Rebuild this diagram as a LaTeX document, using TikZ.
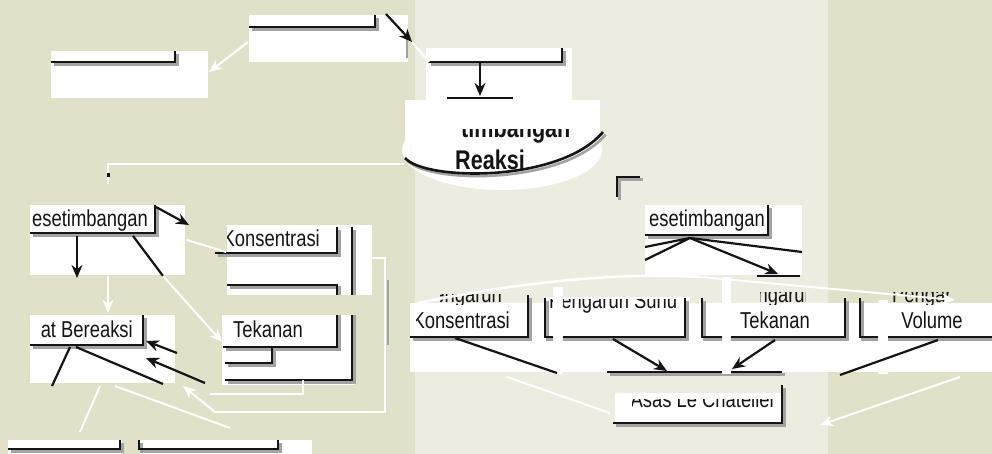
\documentclass[tikz,border=0pt]{standalone}
\usepackage{fontspec}
\setmainfont[FakeStretch=0.8]{Liberation Sans}
\usetikzlibrary{arrows.meta}
\definecolor{mapolive}{HTML}{E0E1C8}
\definecolor{mappale}{HTML}{ECECE1}
\definecolor{mapshade}{HTML}{A3A3A3}
\definecolor{mapink}{HTML}{141414}

\begin{document}
\begin{tikzpicture}[
  x=1pt,y=-1pt,
  >={Stealth[length=13pt,width=11pt]},
  patch/.style={fill=white},
  rim/.style={draw=mapink,line width=2.6pt,line join=miter,
    preaction={draw=mapshade,line width=2.6pt,
      transform canvas={shift={(2.6pt,-2.6pt)}}}},
  link/.style={draw=mapink,line width=2.2pt},
  wlink/.style={draw=white,line width=2pt},
  term/.style={font=\fontsize{23}{26}\selectfont,inner sep=0pt,text=mapink},
  heading/.style={font=\fontsize{27}{30}\selectfont\bfseries,inner sep=0pt,text=mapink}
]
  \useasboundingbox (0,0) rectangle (992,454);
  \fill[mapolive] (0,0) rectangle (992,454);
  \fill[mappale] (415,0) rectangle (828,454);

  % white grounds behind the boxes
  \fill[patch] (249,15) rectangle (408,62);
  \fill[patch] (51,51) rectangle (208,98);
  \fill[patch] (426,48) rectangle (572,100);
  \fill[patch] (405,100) rectangle (600,150);
  \fill[patch] (502,150) ellipse [x radius=100,y radius=40];
  \fill[patch] (30,205) rectangle (185,275);
  \fill[patch] (227,225) rectangle (372,295);
  \fill[patch] (222,315) rectangle (355,385);
  \fill[patch] (30,315) rectangle (175,383);
  \fill[patch] (8,440) rectangle (122,454);
  \fill[patch] (140,440) rectangle (312,454);
  \fill[patch] (645,205) rectangle (802,275);
  \fill[patch] (410,303) rectangle (992,372);
  \fill[patch] (545,297) rectangle (690,303);
  \fill[patch] (615,393) rectangle (782,423);

  % box edges
  \draw[rim] (249,27) -- (375,27) -- (375,15);
  \draw[rim] (51,62) -- (175,62) -- (175,51);
  \draw[rim] (428,62) -- (562,62) -- (562,48);
  \draw[rim] (405,158) .. controls (425,181) and (560,183) .. (603,132);
  \draw[rim] (30,233) -- (155,233) -- (155,205);
  \draw[rim] (215,253) -- (337,253) -- (337,227);
  \draw[rim] (227,285) -- (337,285) -- (337,347) -- (223,347);
  \draw[rim] (225,363) -- (272,363) -- (272,347);
  \draw[rim] (225,380) -- (352,380) -- (352,227);
  \draw[rim] (30,345) -- (143,345) -- (143,315);
  \draw[rim] (8,449) -- (120,449) -- (120,440);
  \draw[rim] (139,440) -- (139,449) -- (278,449) -- (278,440);
  \draw[rim] (617,197) -- (617,177) -- (640,177);
  \draw[rim] (645,235) -- (768,235) -- (768,205);
  \draw[rim] (410,337) -- (528,337) -- (528,295);
  \draw[rim] (545,298) -- (545,337) -- (685,337) -- (685,298);
  \draw[rim] (702,298) -- (702,337) -- (845,337) -- (845,298);
  \draw[rim] (860,298) -- (860,337) -- (992,337);
  \draw[rim] (607,372) -- (782,372);
  \draw[rim] (613,423) -- (782,423) -- (782,385);
  \fill[mapolive] (222,295) rectangle (372,315);
  \draw[mapink,line width=1.4pt] (447,98) -- (513,98);
  \draw[mapshade,line width=2pt] (407,32) -- (407,58);
  \draw[mapshade,line width=2pt] (388,280) -- (388,345);
  \draw[mapink,line width=1.4pt] (648,276) -- (690,276) (757,276) -- (800,276);

  % texts
  \node[heading,anchor=base] (reaksi) at (490,170) {Reaksi};
  \begin{scope}
    \clip (461,130) rectangle (600,150);
    \node[heading,anchor=base] (kesTitle) at (490,138) {Kesetimbangan};
  \end{scope}
  \node[term,anchor=base east] (kesLeft) at (148,226) {esetimbangan};
  \begin{scope}
    \clip (227,225) rectangle (372,295);
    \node[term,anchor=base east] (konsMid) at (320,247) {Konsentrasi};
  \end{scope}
  \node[term,anchor=base west] (tekMid) at (233,337) {Tekanan};
  \node[term,anchor=base east] (bereaksi) at (133,337) {at Bereaksi};
  \node[term,anchor=base east] (kesRight) at (765,227) {esetimbangan};
  \begin{scope}
    \clip (416,292) rectangle (530,372);
    \node[term,anchor=base east] (konsLow) at (510,328) {Konsentrasi};
  \end{scope}
  \begin{scope}
    \clip (440,294) rectangle (520,304);
    \node[term,anchor=base] (pengKons) at (462,302) {Pengaruh};
  \end{scope}
  \begin{scope}
    \clip (545,299) rectangle (690,320);
    \node[term,anchor=base west] (suhuLow) at (549,308) {Pengaruh Suhu};
  \end{scope}
  \begin{scope}
    \clip (760,292) rectangle (805,304);
    \node[term,anchor=base] (pengTek) at (775,302) {Pengaruh};
  \end{scope}
  \begin{scope}
    \clip (888,292) rectangle (950,304);
    \node[term,anchor=base] (pengVol) at (932,302) {Pengaruh};
  \end{scope}
  \node[term,anchor=base] (tekLow) at (775,328) {Tekanan};
  \node[term,anchor=base] (volLow) at (932,328) {Volume};
  \begin{scope}
    \clip (632,399) rectangle (782,423);
    \node[term,anchor=base east] (chatelier) at (776,407) {Asas Le Chatelier};
  \end{scope}

  % white strips over the lower row
  \fill[patch] (553,287) rectangle (563,374);
  \fill[patch] (722,277) rectangle (731,374);
  \fill[patch] (878,300) rectangle (888,374);

  % black connectors
  \coordinate (upA) at (386,14);
  \coordinate (upB) at (412,42);
  \coordinate (midA) at (480,63);
  \coordinate (midB) at (480,96);
  \coordinate (kesS) at (77,236);
  \coordinate (berN) at (77,278);
  \coordinate (kesNE) at (156,207);
  \coordinate (konsW) at (189,225);
  \coordinate (kesSE) at (133,236);
  \coordinate (kesX) at (163,276);
  \coordinate (tekA) at (177,353);
  \coordinate (tekB) at (205,383);
  \coordinate (berE1) at (146,341);
  \coordinate (berE2) at (146,358);
  \coordinate (berS1) at (70,347);
  \coordinate (berS2) at (76,347);
  \coordinate (berX1) at (52,386);
  \coordinate (berX2) at (163,384);
  \coordinate (fan) at (690,238);
  \coordinate (fanA) at (645,247);
  \coordinate (fanB) at (645,260);
  \coordinate (fanC) at (802,252);
  \coordinate (fanD) at (778,274);
  \coordinate (konsS) at (455,338);
  \coordinate (suhuS) at (613,339);
  \coordinate (tekS) at (775,340);
  \coordinate (volS) at (938,340);
  \coordinate (chA) at (557,373);
  \coordinate (chB) at (667,371);
  \coordinate (chC) at (732,369);
  \coordinate (chD) at (840,375);
  \draw[link,->] (upA) -- (upB);
  \draw[link,->] (midA) -- (midB);
  \draw[link,->] (kesS) -- (berN);
  \draw[link,->] (kesNE) -- (konsW);
  \draw[link] (kesSE) -- (kesX);
  \draw[link,->] (tekA) -- (berE1);
  \draw[link,->] (tekB) -- (berE2);
  \draw[link] (berS1) -- (berX1);
  \draw[link] (berS2) -- (berX2);
  \draw[link] (fan) -- (fanA) (fan) -- (fanB) (fan) -- (fanC);
  \draw[link,->] (fan) -- (fanD);
  \draw[link] (konsS) -- (chA);
  \draw[link,->] (suhuS) -- (chB);
  \draw[link,->] (tekS) -- (chC);
  \draw[link] (volS) -- (chD);

  % white connectors
  \coordinate (upC) at (429,62);
  \coordinate (upD) at (248,42);
  \coordinate (upE) at (209,72);
  \coordinate (ellW) at (404,164);
  \coordinate (kesN) at (108,184);
  \coordinate (kesS2) at (108,276);
  \coordinate (berN2) at (108,313);
  \coordinate (tekW) at (222,342);
  \coordinate (kesE) at (187,240);
  \coordinate (konsW2) at (226,252);
  \coordinate (loopA) at (372,258);
  \coordinate (loopB) at (215,412);
  \coordinate (loopC) at (303,380);
  \coordinate (loopD) at (210,394);
  \coordinate (berE3) at (183,386);
  \coordinate (berS3) at (100,386);
  \coordinate (berS4) at (115,386);
  \coordinate (lowA) at (80,432);
  \coordinate (lowB) at (230,428);
  \coordinate (arcW) at (418,303);
  \coordinate (arcN) at (700,277);
  \coordinate (arcE) at (955,300);
  \coordinate (konsX) at (507,377);
  \coordinate (chW) at (610,413);
  \coordinate (volX) at (960,377);
  \coordinate (chE) at (820,425);
  \draw[wlink] (upB) -- (upC);
  \draw[wlink,->] (upD) -- (upE);
  \draw[wlink] (ellW) -| (kesN);
  \fill[mapink] (106.5,173) rectangle (109.5,177);
  \draw[wlink,->] (kesS2) -- (berN2);
  \draw[wlink,->] (kesX) -- (tekW);
  \draw[wlink] (kesE) -- (konsW2);
  \draw[wlink] (loopA) -- (385,258) |- (loopB);
  \draw[wlink,->] (loopB) -- (berE3);
  \draw[wlink] (loopC) |- (loopD);
  \draw[wlink] (berS3) -- (lowA);
  \draw[wlink] (berS4) -- (lowB);
  \draw[wlink,line width=2.6pt] (arcW) .. controls (520,282) and (620,272) .. (arcN);
  \draw[wlink,->] (arcN) -- (arcE);
  \draw[wlink] (konsX) -- (chW);
  \draw[wlink,->] (volX) -- (chE);
\end{tikzpicture}
\end{document}
